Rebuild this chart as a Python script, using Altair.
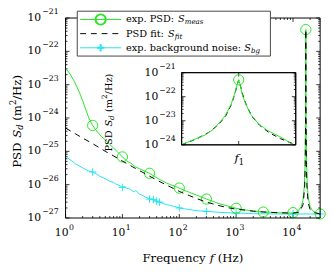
import altair as alt
import pandas as pd

# ---------------- data ----------------
f_meas = [1, 1.2, 1.4, 1.6, 1.8, 2, 2.3, 2.6, 3, 3.4, 3.8, 4.3, 5, 6, 7, 8, 9, 10, 12, 14, 17, 20,
          24, 30, 36, 43, 50, 60, 70, 85, 100, 120, 150, 200, 250, 300, 400, 500, 700, 1000, 1500,
          2000, 3000, 4000, 5000, 7000, 9000, 10000, 11000, 12500, 14000, 15000, 15800, 16300,
          16600, 16800, 17000, 17300, 17800, 18500, 20000, 22000, 25000, 30000]
S_meas = [3.16e-23, 2.09e-23, 1.32e-23, 8.3e-24, 5.25e-24, 3.31e-24, 1.66e-24, 9.5e-25, 6.0e-25,
          4.4e-25, 3.5e-25, 2.75e-25, 2.2e-25, 1.6e-25, 1.26e-25, 1.0e-25, 8.1e-26, 6.8e-26, 5.1e-26,
          4.4e-26, 3.4e-26, 3.0e-26, 2.6e-26, 2.2e-26, 1.8e-26, 1.5e-26, 1.32e-26, 1.12e-26, 1.0e-26,
          8.9e-27, 7.9e-27, 6.9e-27, 5.9e-27, 4.9e-27, 4.2e-27, 3.7e-27, 3.1e-27, 2.7e-27, 2.3e-27,
          1.95e-27, 1.74e-27, 1.62e-27, 1.51e-27, 1.48e-27, 1.45e-27, 1.41e-27, 1.41e-27, 1.41e-27,
          1.45e-27, 1.66e-27, 2.24e-27, 3.5e-27, 8.9e-27, 4.0e-26, 6.3e-25, 4.5e-22, 5.0e-25,
          5.0e-26, 1.0e-26, 4.0e-27, 2.24e-27, 1.66e-27, 1.45e-27, 1.32e-27]
f_meas_mk = [3, 10, 30, 100, 300, 1000, 3000, 10000, 16800, 30000]
S_meas_mk = [6.0e-25, 6.8e-26, 2.2e-26, 7.9e-27, 3.7e-27, 1.95e-27, 1.51e-27, 1.45e-27, 4.5e-22, 1.32e-27]

f_fit = [1, 1.5, 2, 3, 5, 7, 10, 15, 20, 30, 50, 70, 100, 150, 200, 300, 500, 700, 1000, 2000,
         3000, 5000, 10000, 13000, 15000, 16000, 16400, 16650, 16800, 16950, 17200, 17600, 18500,
         20000, 25000, 30000]
S_fit = [5.0e-25, 3.35e-25, 2.5e-25, 1.7e-25, 1.0e-25, 7.3e-26, 5.1e-26, 3.45e-26, 2.64e-26,
         1.8e-26, 1.13e-26, 8.5e-27, 6.3e-27, 4.7e-27, 3.85e-27, 3.0e-27, 2.35e-27, 2.05e-27,
         1.85e-27, 1.6e-27, 1.52e-27, 1.45e-27, 1.4e-27, 1.5e-27, 2.5e-27, 8e-27, 4e-26, 1.6e-24,
         4.5e-22, 1.6e-24, 4e-26, 8e-27, 2.8e-27, 1.8e-27, 1.42e-27, 1.32e-27]

f_bg = [1, 1.2, 1.5, 2, 2.5, 3, 3.5, 4, 5, 6, 7, 8, 8.5, 9, 9.5, 10, 11, 12, 13, 14, 15, 16, 17,
        18, 19, 20, 23, 26, 30, 35, 40, 45, 50, 60, 70, 80, 100, 130, 170, 200, 300, 500, 1000,
        2000, 5000, 10000, 20000, 30000]
S_bg = [7.1e-26, 5.6e-26, 4.2e-26, 3.2e-26, 2.6e-26, 2.4e-26, 2.1e-26, 1.8e-26, 1.5e-26, 1.26e-26,
        1.17e-26, 1.0e-26, 9.8e-27, 9.3e-27, 8.9e-27, 8.3e-27, 8.9e-27, 7.6e-27, 7.8e-27, 7.1e-27,
        6.5e-27, 6.0e-27, 6.6e-27, 6.3e-27, 5.5e-27, 5.2e-27, 4.7e-27, 4.2e-27, 3.7e-27, 3.55e-27,
        3.2e-27, 3.0e-27, 2.8e-27, 2.5e-27, 2.4e-27, 2.24e-27, 2.0e-27, 1.86e-27, 1.74e-27,
        1.66e-27, 1.58e-27, 1.48e-27, 1.41e-27, 1.35e-27, 1.32e-27, 1.32e-27, 1.32e-27, 1.32e-27]
f_bg_mk = [3, 10, 30, 35, 40, 45, 100, 300, 1000, 10000, 30000]
S_bg_mk = [2.4e-26, 8.3e-27, 3.7e-27, 3.55e-27, 3.2e-27, 3.0e-27, 2.0e-27, 1.58e-27, 1.41e-27,
           1.32e-27, 1.32e-27]

# inset (zoom around the resonance f1)
fi_meas = [16652, 16680, 16712, 16734, 16754, 16764, 16770, 16780, 16788, 16796, 16800, 16804,
           16810, 16819, 16830, 16848, 16860, 16866, 16874, 16890, 16908, 16926, 16942]
Si_meas = [1.07e-24, 1.58e-24, 2.57e-24, 4.5e-24, 1.02e-23, 1.58e-23, 2.4e-23, 4.9e-23, 1.12e-22,
           3.2e-22, 5.0e-22, 3.2e-22, 1.12e-22, 4.9e-23, 2.0e-23, 8.9e-24, 6.0e-24, 5.25e-24,
           4.1e-24, 3.0e-24, 2.2e-24, 1.51e-24, 1.0e-24]
fi_fit = [16650, 16690, 16720, 16745, 16765, 16780, 16790, 16797, 16800, 16803, 16810, 16820,
          16835, 16855, 16880, 16910, 16950]
Si_fit = [1.0e-24, 1.8e-24, 3.2e-24, 6.5e-24, 1.5e-23, 4.5e-23, 1.3e-22, 3.6e-22, 5.0e-22,
          3.6e-22, 1.3e-22, 4.5e-23, 1.5e-23, 6.5e-24, 3.2e-24, 1.8e-24, 1.0e-24]
fi_mk = [16800]
Si_mk = [5.0e-22]

x_dec = [1, 10, 100, 1000, 10000]
x_exp = ["0", "1", "2", "3", "4"]
y_dec = [1e-27, 1e-26, 1e-25, 1e-24, 1e-23, 1e-22, 1e-21]
y_exp = ["−27", "−26", "−25", "−24", "−23", "−22", "−21"]
yi_dec = [1e-24, 1e-23, 1e-22, 1e-21]
yi_exp = ["−24", "−23", "−22", "−21"]

# ---------------- styling ----------------
W, H = 261, 205
FONT = "DejaVu Serif"
GREEN = "#22e622"
CYAN = "#22e4f2"
TICKF = 11
EXPF = 8
ONE = pd.DataFrame({"a": [0]})

xs = alt.Scale(type="log", domain=[1, 3e4])
ys = alt.Scale(type="log", domain=[1e-27, 1e-21])
xi = alt.Scale(type="linear", domain=[16650, 16950], range=[119, 236])
yi = alt.Scale(type="log", domain=[1e-24, 1e-21], range=[130, 56])

CW = {" ": .318, "0": .636, "1": .636, "2": .636, "a": .596, "b": .640, "c": .561, "d": .640,
      "e": .592, "f": .370, "g": .640, "h": .644, "i": .320, "k": .610, "l": .320, "m": .948,
      "n": .644, "o": .602, "p": .640, "q": .640, "r": .478, "s": .513, "t": .402, "u": .644,
      "x": .564, "y": .565, "z": .523, "P": .733, "S": .685, "D": .830, "F": .707, "H": .872,
      "(": .390, ")": .390, "/": .337, ":": .337, ".": .318}


def tw(s, size):
    return sum(CW.get(c, 0.6) for c in s) * size


def piece(text, x, y, size, italic=False, angle=0):
    kw = dict(text=text, font=FONT, fontSize=size, align="left", baseline="middle", color="black")
    if italic:
        kw["fontStyle"] = "italic"
    if angle:
        kw["angle"] = angle
    return alt.Chart(ONE).mark_text(**kw).encode(x=alt.value(x), y=alt.value(y))


def rich(parts, x0, y0, rotate=False, center=False):
    total = sum(tw(t, s) for t, s, _, _ in parts)
    pos = -total / 2 if center else 0
    out = []
    for t, s, it, sh in parts:
        lead = len(t) - len(t.lstrip(" "))
        p = pos + lead * CW[" "] * s
        txt = t.strip(" ")
        if txt:
            if rotate:
                out.append(piece(txt, x0 + sh, y0 - p, s, it, angle=270))
            else:
                out.append(piece(txt, x0 + p, y0 + sh, s, it))
        pos += tw(t, s)
    return out


def line(f, s, color, xsc, ysc, dash=None, width=1.0):
    kw = dict(color=color, strokeWidth=width)
    if dash:
        kw["strokeDash"] = dash
    return alt.Chart(pd.DataFrame({"f": f, "s": s})).mark_line(**kw).encode(
        x=alt.X("f:Q", scale=xsc, axis=None), y=alt.Y("s:Q", scale=ysc, axis=None))


def marks(f, s, color, xsc, ysc, shape, size):
    return alt.Chart(pd.DataFrame({"f": f, "s": s})).mark_point(
        shape=shape, size=size, filled=False, color=color, strokeWidth=1, opacity=1).encode(
        x=alt.X("f:Q", scale=xsc, axis=None), y=alt.Y("s:Q", scale=ysc, axis=None))


def hticks(vals, ysc, x0, x1):
    return alt.Chart(pd.DataFrame({"v": vals})).mark_rule(color="black", strokeWidth=0.8).encode(
        y=alt.Y("v:Q", scale=ysc, axis=None), x=alt.value(x0), x2=alt.value(x1))


def vticks(vals, xsc, y0, y1):
    return alt.Chart(pd.DataFrame({"v": vals})).mark_rule(color="black", strokeWidth=0.8).encode(
        x=alt.X("v:Q", scale=xsc, axis=None), y=alt.value(y0), y2=alt.value(y1))


def box(x0, x1, y0, y1, stroke="black", fill="white", fo=1.0):
    return alt.Chart(ONE).mark_rect(fill=fill, fillOpacity=fo, stroke=stroke, strokeWidth=1).encode(
        x=alt.value(x0), x2=alt.value(x1), y=alt.value(y0), y2=alt.value(y1))


y_minor = [m * d for d in y_dec[:-1] for m in range(2, 10)]
x_minor = [m * d for d in x_dec for m in range(2, 10) if m * d < 3e4]
yi_minor = [m * d for d in yi_dec[:-1] for m in range(2, 10)]

# ---------------- main panel ----------------
main_layers = [
    hticks(y_dec, ys, 0, 4), hticks(y_minor, ys, 0, 2),
    hticks(y_dec, ys, W - 4, W), hticks(y_minor, ys, W - 2, W),
    vticks(x_dec, xs, H - 4, H), vticks(x_minor, xs, H - 2, H),
    vticks(x_dec, xs, 0, 4), vticks(x_minor, xs, 0, 2),
    line(f_bg, S_bg, CYAN, xs, ys),
    marks(f_bg_mk, S_bg_mk, CYAN, xs, ys, "M-1,0L1,0M0,-1L0,1", 60),
    line(f_meas, S_meas, GREEN, xs, ys),
    marks(f_meas_mk, S_meas_mk, GREEN, xs, ys, "circle", 110),
    line(f_fit, S_fit, "black", xs, ys, dash=[6, 5]),
    box(0, W, 0, H, fill="white", fo=0),
    # tick labels
    alt.Chart(pd.DataFrame({"v": y_dec, "e": y_exp})).mark_text(
        text="10", font=FONT, fontSize=TICKF, align="right", baseline="middle").encode(
        y=alt.Y("v:Q", scale=ys, axis=None), x=alt.value(-25)),
    alt.Chart(pd.DataFrame({"v": y_dec, "e": y_exp})).mark_text(
        font=FONT, fontSize=EXPF, align="left", baseline="middle", dy=-6).encode(
        y=alt.Y("v:Q", scale=ys, axis=None), x=alt.value(-24), text="e:N"),
    alt.Chart(pd.DataFrame({"v": x_dec, "e": x_exp})).mark_text(
        text="10", font=FONT, fontSize=TICKF, align="right", baseline="middle", dx=3).encode(
        x=alt.X("v:Q", scale=xs, axis=None), y=alt.value(H + 15)),
    alt.Chart(pd.DataFrame({"v": x_dec, "e": x_exp})).mark_text(
        font=FONT, fontSize=EXPF, align="left", baseline="middle", dx=3.5).encode(
        x=alt.X("v:Q", scale=xs, axis=None), y=alt.value(H + 10), text="e:N"),
]
main_layers += rich([("Frequency ", 12, False, 0), ("f", 12, True, 0), (" (Hz)", 12, False, 0)],
                    W / 2, H + 41, center=True)
main_layers += rich([("PSD ", 12, False, 0), ("S", 12, True, 0), ("d", 8.5, True, 3.5),
                     (" (m", 12, False, 0), ("2", 8.5, False, -4), ("/Hz)", 12, False, 0)],
                    -50, 106, rotate=True, center=True)
main = alt.layer(*main_layers)

# ---------------- inset + legend ----------------
LF = 10
SF = 7.2
rows = [1.5, 16, 30.5]
inset_layers = [
    box(119, 236, 56, 130),
    hticks(yi_dec, yi, 119, 123), hticks(yi_minor, yi, 119, 121),
    hticks(yi_dec, yi, 232, 236), hticks(yi_minor, yi, 234, 236),
    vticks([16800], xi, 126, 130), vticks([16800], xi, 56, 60),
    line(fi_fit, Si_fit, "black", xi, yi, dash=[5, 4]),
    line(fi_meas, Si_meas, GREEN, xi, yi),
    marks(fi_mk, Si_mk, GREEN, xi, yi, "circle", 110),
    box(119, 236, 56, 130, fill="white", fo=0),
    alt.Chart(pd.DataFrame({"v": yi_dec, "e": yi_exp})).mark_text(
        text="10", font=FONT, fontSize=TICKF, align="right", baseline="middle").encode(
        y=alt.Y("v:Q", scale=yi, axis=None), x=alt.value(95)),
    alt.Chart(pd.DataFrame({"v": yi_dec, "e": yi_exp})).mark_text(
        font=FONT, fontSize=EXPF, align="left", baseline="middle", dy=-6).encode(
        y=alt.Y("v:Q", scale=yi, axis=None), x=alt.value(96), text="e:N"),
    # legend
    box(12, 210, -7, 39, stroke="#444444"),
    alt.Chart(ONE).mark_rule(color=GREEN, strokeWidth=1).encode(
        x=alt.value(15), x2=alt.value(57), y=alt.value(rows[0])),
    alt.Chart(ONE).mark_point(shape="circle", size=110, filled=False, color=GREEN, opacity=1).encode(
        x=alt.value(36), y=alt.value(rows[0])),
    alt.Chart(ONE).mark_rule(color="black", strokeWidth=1, strokeDash=[6, 5]).encode(
        x=alt.value(15), x2=alt.value(57), y=alt.value(rows[1])),
    alt.Chart(ONE).mark_rule(color=CYAN, strokeWidth=1).encode(
        x=alt.value(15), x2=alt.value(57), y=alt.value(rows[2])),
    alt.Chart(ONE).mark_point(shape="M-1,0L1,0M0,-1L0,1", size=60, filled=False, color=CYAN,
                              opacity=1).encode(x=alt.value(36), y=alt.value(rows[2])),
]
inset_layers += rich([("f", 12, True, 0), ("1", 8.5, False, 3.5)], 178, 144, center=True)
inset_layers += rich([("PSD ", 10, False, 0), ("S", 10, True, 0), ("d", 7.5, True, 3),
                      (" (m", 10, False, 0), ("2", 7.5, False, -4), ("/Hz)", 10, False, 0)],
                     45, 97, rotate=True, center=True)
inset_layers += rich([("exp. PSD: ", LF, False, 0), ("S", LF, True, 0), ("meas", SF, True, 3)],
                     62, rows[0])
inset_layers += rich([("PSD fit: ", LF, False, 0), ("S", LF, True, 0), ("fit", SF, True, 3)],
                     62, rows[1])
inset_layers += rich([("exp. background noise: ", LF, False, 0), ("S", LF, True, 0),
                      ("bg", SF, True, 3)], 62, rows[2])
inset = alt.layer(*inset_layers)

chart = alt.layer(main, inset).resolve_scale(x="independent", y="independent").properties(
    width=W, height=H,
    padding={"left": 59, "top": 7, "right": 6, "bottom": 49},
    autosize=alt.AutoSizeParams(type="none"),
).configure_view(stroke=None)

chart.save("out.html", embed_options={"renderer": "svg", "actions": False})
